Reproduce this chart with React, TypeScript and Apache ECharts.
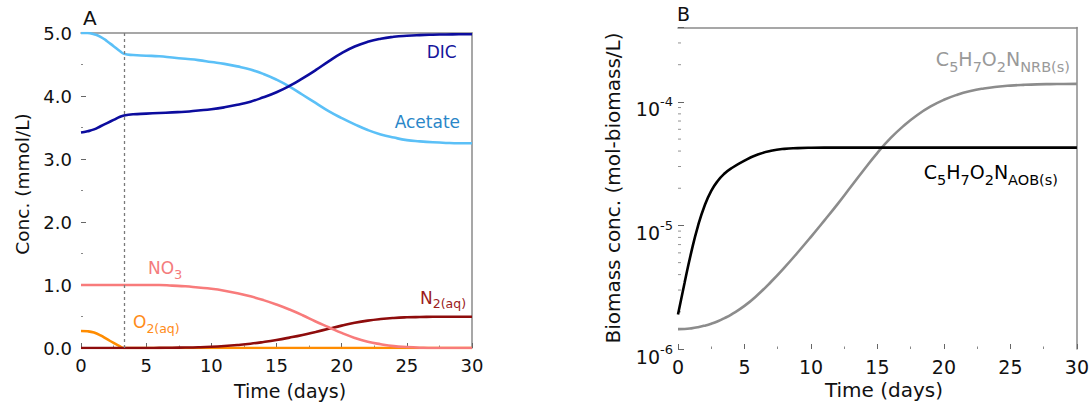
import React, { useEffect, useRef } from 'react';
import * as echarts from 'echarts';

const FONT = "'DejaVu Sans', 'Noto Sans', sans-serif";

// ---- Panel A data (mmol/L) ----
const days = [0, 0.5, 1, 1.5, 2, 2.5, 3, 3.3, 4, 5, 6, 7, 8, 9, 10, 11, 12, 13, 14, 15, 16, 17, 18, 19, 20, 21, 22, 23, 24, 25, 26, 27, 28, 29, 30];
const acetate = [5.0, 5.0, 4.98, 4.94, 4.87, 4.79, 4.71, 4.67, 4.65, 4.64, 4.63, 4.61, 4.59, 4.57, 4.54, 4.51, 4.47, 4.42, 4.35, 4.26, 4.15, 4.02, 3.89, 3.76, 3.65, 3.55, 3.46, 3.39, 3.34, 3.3, 3.28, 3.265, 3.255, 3.25, 3.25];
const dic = [3.42, 3.44, 3.47, 3.52, 3.57, 3.62, 3.67, 3.69, 3.71, 3.72, 3.73, 3.74, 3.75, 3.77, 3.79, 3.82, 3.86, 3.91, 3.98, 4.06, 4.16, 4.28, 4.41, 4.55, 4.68, 4.785, 4.86, 4.91, 4.94, 4.957, 4.967, 4.973, 4.977, 4.979, 4.98];
const no3 = [1.0, 1.0, 1.0, 1.0, 1.0, 1.0, 1.0, 1.0, 1.0, 1.0, 1.0, 0.99, 0.98, 0.96, 0.94, 0.91, 0.87, 0.82, 0.76, 0.69, 0.61, 0.52, 0.42, 0.33, 0.24, 0.16, 0.1, 0.06, 0.03, 0.015, 0.005, 0, 0, 0, 0];
const n2 = [0, 0, 0, 0, 0, 0, 0, 0, 0, 0, 0.002, 0.004, 0.007, 0.012, 0.02, 0.032, 0.048, 0.068, 0.095, 0.127, 0.165, 0.207, 0.255, 0.305, 0.355, 0.4, 0.435, 0.46, 0.477, 0.487, 0.492, 0.495, 0.496, 0.497, 0.497];
const o2 = [0.27, 0.265, 0.245, 0.2, 0.14, 0.08, 0.025, 0, 0, 0, 0, 0, 0, 0, 0, 0, 0, 0, 0, 0, 0, 0, 0, 0, 0, 0, 0, 0, 0, 0, 0, 0, 0, 0, 0];
const switchDay = 3.3;

// ---- Panel B data (mol-biomass/L) ----
const bioDays = [0, 0.5, 1, 1.5, 2, 2.5, 3, 3.5, 4, 5, 6, 7, 8, 9, 10, 11, 12, 13, 14, 15, 16, 17, 18, 19, 20, 21, 22, 23, 24, 25, 26, 27, 28, 29, 30];
const aob = [1.9e-6, 3.46e-6, 6.08e-6, 9.89e-6, 1.445e-5, 1.905e-5, 2.301e-5, 2.63e-5, 2.897e-5, 3.35e-5, 3.75e-5, 4.018e-5, 4.169e-5, 4.227e-5, 4.256e-5, 4.266e-5, 4.266e-5, 4.266e-5, 4.266e-5, 4.266e-5, 4.266e-5, 4.266e-5, 4.266e-5, 4.266e-5, 4.266e-5, 4.266e-5, 4.266e-5, 4.266e-5, 4.266e-5, 4.266e-5, 4.266e-5, 4.266e-5, 4.266e-5, 4.266e-5, 4.266e-5];
const nrb = [1.449e-6, 1.452e-6, 1.469e-6, 1.5e-6, 1.545e-6, 1.603e-6, 1.679e-6, 1.778e-6, 1.901e-6, 2.234e-6, 2.748e-6, 3.5e-6, 4.56e-6, 6.04e-6, 8.09e-6, 1.094e-5, 1.489e-5, 2.056e-5, 2.838e-5, 3.873e-5, 5.105e-5, 6.442e-5, 7.834e-5, 9.183e-5, 1.04e-4, 1.143e-4, 1.225e-4, 1.285e-4, 1.327e-4, 1.355e-4, 1.374e-4, 1.387e-4, 1.393e-4, 1.396e-4, 1.4e-4];
const logMinorTicks = [2e-6, 3e-6, 4e-6, 5e-6, 6e-6, 7e-6, 8e-6, 9e-6, 2e-5, 3e-5, 4e-5, 5e-5, 6e-5, 7e-5, 8e-5, 9e-5, 2e-4, 3e-4];

const pairs = (xs: number[], ys: number[]) => xs.map((x, i) => [x, ys[i]]);

const frameAxis = (gridIndex: number, min: number, max: number, extra: any = {}) => ({
  gridIndex,
  type: 'value',
  min,
  max,
  axisLine: { show: true, onZero: false, lineStyle: { color: '#8a8a8a', width: 1.5 } },
  axisTick: { show: false },
  axisLabel: { show: false },
  splitLine: { show: false },
  ...extra,
});

const lineSeries = (name: string, xi: number, yi: number, data: number[][], color: string, width = 2.6) => ({
  name,
  type: 'line',
  xAxisIndex: xi,
  yAxisIndex: yi,
  data,
  showSymbol: false,
  symbol: 'none',
  smooth: 0.5,
  lineStyle: { color, width },
  itemStyle: { color },
  silent: true,
});

export default function App() {
  const ref = useRef<HTMLDivElement>(null);
  useEffect(() => {
    if (!ref.current) return;
    const chart = echarts.init(ref.current, undefined, { renderer: 'svg' });
    const xAxisCommon = (gridIndex: number, fontSize: number) => ({
      gridIndex,
      type: 'value',
      min: 0,
      max: 30,
      interval: 5,
      axisLine: { show: false, onZero: false },
      axisTick: { show: true, inside: true, length: 5, lineStyle: { color: '#666', width: 1 } },
      minorTick: { show: true, splitNumber: 2, length: 2.5, lineStyle: { color: '#888', width: 1 } },
      axisLabel: { fontSize, fontFamily: FONT, color: '#111', margin: 8 },
      splitLine: { show: false },
    });
    const option: any = {
      animation: false,
      textStyle: { fontFamily: FONT },
      grid: [
        { left: 81, top: 33, width: 391, height: 315 },
        { left: 678, top: 27.5, width: 399.5, height: 321.5 },
      ],
      xAxis: [
        xAxisCommon(0, 18),
        frameAxis(0, 0, 30, { position: 'top' }),
        xAxisCommon(1, 19),
        frameAxis(1, 0, 30, { position: 'top' }),
      ],
      yAxis: [
        {
          gridIndex: 0,
          type: 'value',
          min: 0,
          max: 5,
          interval: 1,
          axisLine: { show: false, onZero: false },
          axisTick: { show: true, inside: true, length: 5, lineStyle: { color: '#666', width: 1 } },
          minorTick: { show: true, splitNumber: 2, length: 2, lineStyle: { color: '#888', width: 1 } },
          axisLabel: {
            fontSize: 18,
            fontFamily: FONT,
            color: '#111',
            margin: 9,
            formatter: (v: number) => v.toFixed(1),
          },
          splitLine: { show: false },
        },
        frameAxis(0, 0, 5, { position: 'right' }),
        {
          gridIndex: 1,
          type: 'log',
          logBase: 10,
          min: 1e-6,
          max: 4e-4,
          axisLine: { show: false, onZero: false },
          axisTick: { show: true, inside: true, length: 6, lineStyle: { color: '#666', width: 1 } },
          axisLabel: {
            margin: 5,
            color: '#111',
            formatter: (v: number) => {
              const e = Math.log10(v);
              if (Math.abs(e - Math.round(e)) > 1e-6) return '';
              return '{m|10}{s|' + Math.round(e) + '}';
            },
            rich: {
              m: { fontSize: 19, fontFamily: FONT, color: '#111', lineHeight: 34, verticalAlign: 'bottom' },
              s: { fontSize: 13, fontFamily: FONT, color: '#111' },
            },
          },
          splitLine: { show: false },
        },
        frameAxis(1, 0, 1, { position: 'right' }),
      ],
      series: [
        {
          ...lineSeries('O2(aq)', 0, 0, pairs(days, o2), '#ff8c00'),
          markLine: {
            silent: true,
            symbol: 'none',
            label: { show: false },
            lineStyle: { type: [3, 3], color: '#7a7a7a', width: 1.3 },
            data: [{ xAxis: switchDay }],
          },
        },
        lineSeries('N2(aq)', 0, 0, pairs(days, n2), '#8e0c0c'),
        lineSeries('NO3', 0, 0, pairs(days, no3), '#f87b7b'),
        lineSeries('Acetate', 0, 0, pairs(days, acetate), '#5bc0f7'),
        lineSeries('DIC', 0, 0, pairs(days, dic), '#0c0c9e'),
        {
          type: 'scatter',
          xAxisIndex: 2,
          yAxisIndex: 2,
          silent: true,
          symbol: 'rect',
          symbolSize: [3, 1],
          symbolOffset: [1.5, 0],
          itemStyle: { color: '#777' },
          data: logMinorTicks.map((v) => [0, v]),
          z: 1,
        },
        lineSeries('C5H7O2N NRB(s)', 2, 2, pairs(bioDays, nrb), '#8c8c8c'),
        lineSeries('C5H7O2N AOB(s)', 2, 2, pairs(bioDays, aob), '#000000'),
      ],
      graphic: [
        { type: 'text', x: 83, y: 17.5, style: { text: 'A', fontSize: 20, fontFamily: FONT, fill: '#111', verticalAlign: 'middle' } },
        { type: 'text', x: 677, y: 13.5, style: { text: 'B', fontSize: 19, fontFamily: FONT, fill: '#111', verticalAlign: 'middle' } },
        { type: 'text', x: 290, y: 391, style: { text: 'Time (days)', fontSize: 19, fontFamily: FONT, fill: '#111', align: 'center', verticalAlign: 'middle' } },
        { type: 'text', x: 884, y: 390, style: { text: 'Time (days)', fontSize: 20, fontFamily: FONT, fill: '#111', align: 'center', verticalAlign: 'middle' } },
        { type: 'text', x: 22, y: 184, rotation: Math.PI / 2, style: { text: 'Conc. (mmol/L)', fontSize: 18.5, fontFamily: FONT, fill: '#111', align: 'center', verticalAlign: 'middle' } },
        { type: 'text', x: 613, y: 188, rotation: Math.PI / 2, style: { text: 'Biomass conc. (mol-biomass/L)', fontSize: 20, fontFamily: FONT, fill: '#111', align: 'center', verticalAlign: 'middle' } },
        { type: 'text', x: 456.7, y: 52, style: { text: 'DIC', fontSize: 17, fontFamily: FONT, fill: '#16169c', align: 'right', verticalAlign: 'middle' } },
        { type: 'text', x: 460, y: 121.5, style: { text: 'Acetate', fontSize: 17, fontFamily: FONT, fill: '#2a86c8', align: 'right', verticalAlign: 'middle' } },
        {
          type: 'text', x: 148, y: 270,
          style: {
            text: '{m|NO}{s|3}', fill: '#f47c7c', align: 'left', verticalAlign: 'middle',
            rich: { m: { fontSize: 17, fontFamily: FONT, fill: '#f47c7c', lineHeight: 21, verticalAlign: 'top' }, s: { fontSize: 13, fontFamily: FONT, fill: '#f47c7c', verticalAlign: 'bottom' } },
          },
        },
        {
          type: 'text', x: 133, y: 324,
          style: {
            text: '{m|O}{s|2(aq)}', fill: '#ff8c1a', align: 'left', verticalAlign: 'middle',
            rich: { m: { fontSize: 17, fontFamily: FONT, fill: '#ff8c1a', lineHeight: 21, verticalAlign: 'top' }, s: { fontSize: 12.5, fontFamily: FONT, fill: '#ff8c1a', verticalAlign: 'bottom' } },
          },
        },
        {
          type: 'text', x: 420, y: 299.5,
          style: {
            text: '{m|N}{s|2(aq)}', fill: '#9b1c1c', align: 'left', verticalAlign: 'middle',
            rich: { m: { fontSize: 17, fontFamily: FONT, fill: '#9b1c1c', lineHeight: 21, verticalAlign: 'top' }, s: { fontSize: 12.5, fontFamily: FONT, fill: '#9b1c1c', verticalAlign: 'bottom' } },
          },
        },
        {
          type: 'text', x: 1070, y: 62,
          style: {
            text: '{m|C}{s|5}{m|H}{s|7}{m|O}{s|2}{m|N}{s|NRB(s)}', fill: '#999', align: 'right', verticalAlign: 'middle',
            rich: { m: { fontSize: 19, fontFamily: FONT, fill: '#999', lineHeight: 25, verticalAlign: 'top' }, s: { fontSize: 14.5, fontFamily: FONT, fill: '#999', verticalAlign: 'bottom' } },
          },
        },
        {
          type: 'text', x: 1058, y: 175,
          style: {
            text: '{m|C}{s|5}{m|H}{s|7}{m|O}{s|2}{m|N}{s|AOB(s)}', fill: '#000', align: 'right', verticalAlign: 'middle',
            rich: { m: { fontSize: 19, fontFamily: FONT, fill: '#000', lineHeight: 25, verticalAlign: 'top' }, s: { fontSize: 14.5, fontFamily: FONT, fill: '#000', verticalAlign: 'bottom' } },
          },
        },
      ],
    };
    chart.setOption(option);
    return () => chart.dispose();
  }, []);
  return (
    <div
      ref={ref}
      style={{ position: 'fixed', left: 0, top: 0, width: 1092, height: 408, background: '#fff' }}
    />
  );
}
